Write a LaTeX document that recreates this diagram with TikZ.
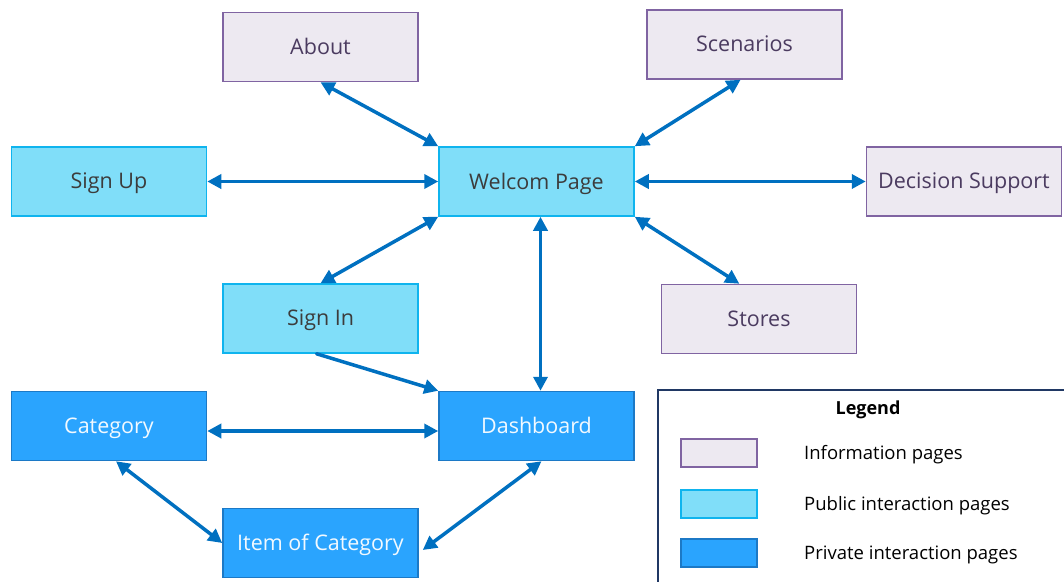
\documentclass[tikz,border=0pt]{standalone}
\usepackage{fontspec}
\setmainfont{Open Sans}
\usetikzlibrary{arrows.meta,calc}
\definecolor{infofill}{HTML}{EDE9F1}
\definecolor{infodraw}{HTML}{8064A2}
\definecolor{infotext}{HTML}{4B3B60}
\definecolor{pubfill}{HTML}{80DEF9}
\definecolor{pubdraw}{HTML}{0FB4EE}
\definecolor{pubtext}{HTML}{3C3C3C}
\definecolor{privfill}{HTML}{2AA4FE}
\definecolor{privdraw}{HTML}{1C79C6}
\definecolor{privtext}{HTML}{F2F9FF}
\definecolor{linkcol}{HTML}{0070C0}
\definecolor{legenddraw}{HTML}{203864}
\begin{document}
\begin{tikzpicture}[x=1pt,y=-1pt,
  page/.style={draw, line width=1.5pt, minimum width=195pt, minimum height=69pt,
    inner sep=0pt, text depth=1pt, font=\fontsize{21.5}{24}\selectfont},
  info/.style={page, fill=infofill, draw=infodraw, text=infotext},
  pub/.style={page, fill=pubfill, draw=pubdraw, text=pubtext},
  priv/.style={page, fill=privfill, draw=privdraw, text=privtext},
  swatch/.style={draw, line width=1.5pt, minimum width=76pt, minimum height=28pt, inner sep=0pt},
  legtext/.style={anchor=west, inner sep=0pt, font=\fontsize{18.5}{22}\selectfont, text=black},
  biline/.style={draw=linkcol, line width=3.5pt, {Triangle[length=14pt,width=14pt]}-{Triangle[length=14pt,width=14pt]}},
  oneline/.style={draw=linkcol, line width=3.5pt, line cap=round, -{Triangle[length=14pt,width=14pt]}}
]
\useasboundingbox (0,0) rectangle (1064,581);

% pages
\node[info] (about)    at (320.5,47)   {About};
\node[info] (scen)     at (744.5,44.5) {Scenarios};
\node[pub]  (signup)   at (109,181.5)  {Sign Up};
\node[pub]  (welcom)   at (536.5,181.5){Welcom Page};
\node[info] (decision) at (964,181.5)  {Decision Support};
\node[pub]  (signin)   at (320.5,318.5){Sign In};
\node[info] (stores)   at (759,319)    {Stores};
\node[priv] (category) at (109,426)    {Category};
\node[priv] (dash)     at (536.5,426)  {Dashboard};
\node[priv] (item)     at (320.5,543)  {Item of Category};

% links between pages
\draw[biline] (about.south) -- (welcom.north west);
\draw[biline] ($(scen.south west)!0.48!(scen.south east)$) -- (welcom.north east);
\draw[biline] (signup.east) -- (welcom.west);
\draw[biline] (welcom.east) -- (decision.west);
\draw[biline] (welcom.south east) -- ($(stores.north west)!0.4!(stores.north east)$);
\draw[biline] (welcom.south west) -- (signin.north);
\draw[biline] ($(welcom.south)+(4,0)$) -- ($(dash.north)+(4,0)$);
\draw[oneline] ($(signin.south)+(-4,0)$) -- (dash.north west);
\draw[biline] ($(category.east)+(0,5)$) -- ($(dash.west)+(0,5)$);
\draw[biline] ($(category.south)+(7,0)$) -- (item.west);
\draw[biline] ($(dash.south)+(5,0)$) -- ($(item.east)+(4,7)$);

% legend
\draw[legenddraw, line width=1.5pt] (658,390) rectangle (1075,595);
\node[font=\bfseries\fontsize{18}{21}\selectfont, text=black] (legtitle) at (868,410) {Legend};
\node[swatch, fill=infofill, draw=infodraw] (swinfo) at (719,453) {};
\node[swatch, fill=pubfill, draw=pubdraw]   (swpub)  at (719,504) {};
\node[swatch, fill=privfill, draw=privdraw] (swpriv) at (719,553) {};
\node[legtext] (ltinfo) at (804,455) {Information pages};
\node[legtext] (ltpub)  at (804,506) {Public interaction pages};
\node[legtext] (ltpriv) at (804,555) {Private interaction pages};
\end{tikzpicture}
\end{document}
